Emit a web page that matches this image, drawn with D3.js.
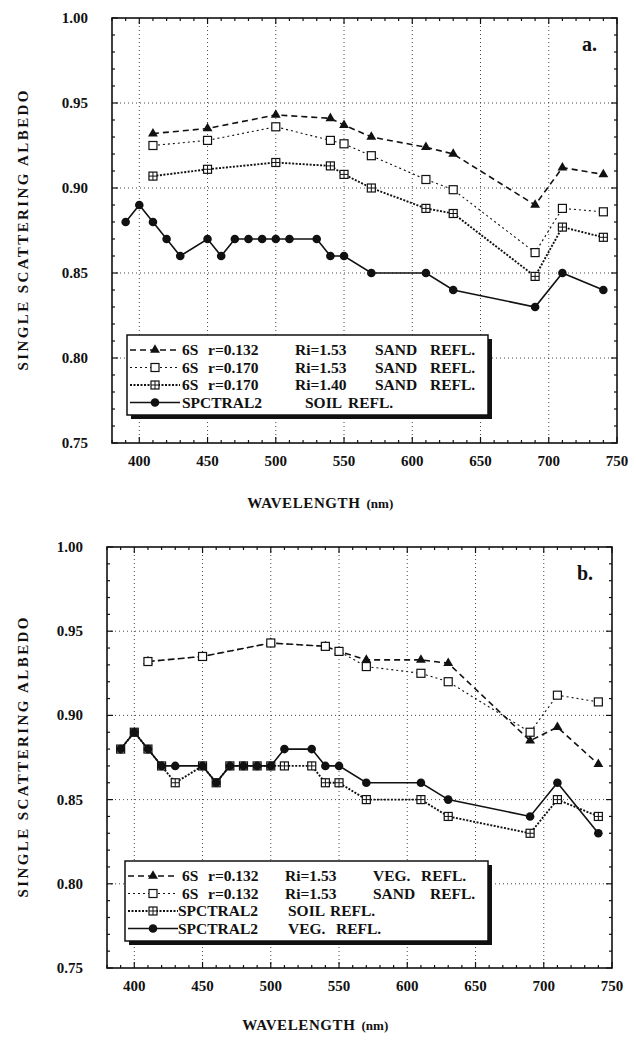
<!DOCTYPE html>
<html>
<head>
<meta charset="utf-8">
<script src="https://cdn.jsdelivr.net/npm/d3@7"></script>
<style>
  body { margin: 0; background: #fff; }
  svg { display: block; }
</style>
</head>
<body>
<div id="chart"></div>
<script>
// wavelengths (nm)
var wl6S = [410, 450, 500, 540, 550, 570, 610, 630, 690, 710, 740];
var wlSpc = [390, 400, 410, 420, 430, 450, 460, 470, 480, 490, 500, 510, 530, 540, 550, 570, 610, 630, 690, 710, 740];

// panel a
var a6S132 = [0.932, 0.935, 0.943, 0.941, 0.937, 0.930, 0.924, 0.920, 0.890, 0.912, 0.908];
var a6S170 = [0.925, 0.928, 0.936, 0.928, 0.926, 0.919, 0.905, 0.899, 0.862, 0.888, 0.886];
var a6S170b = [0.907, 0.911, 0.915, 0.913, 0.908, 0.900, 0.888, 0.885, 0.848, 0.877, 0.871];
var aSoil = [0.88, 0.89, 0.88, 0.87, 0.86, 0.87, 0.86, 0.87, 0.87, 0.87, 0.87, 0.87, 0.87, 0.86, 0.86, 0.85, 0.85, 0.84, 0.83, 0.85, 0.84];

// panel b
var b6SVeg = [0.932, 0.935, 0.943, 0.941, 0.938, 0.933, 0.933, 0.931, 0.885, 0.893, 0.871];
var b6SSand = [0.932, 0.935, 0.943, 0.941, 0.938, 0.929, 0.925, 0.920, 0.890, 0.912, 0.908];
var bSoil = [0.88, 0.89, 0.88, 0.87, 0.86, 0.87, 0.86, 0.87, 0.87, 0.87, 0.87, 0.87, 0.87, 0.86, 0.86, 0.85, 0.85, 0.84, 0.83, 0.85, 0.84];
var bVeg = [0.88, 0.89, 0.88, 0.87, 0.87, 0.87, 0.86, 0.87, 0.87, 0.87, 0.87, 0.88, 0.88, 0.87, 0.87, 0.86, 0.86, 0.85, 0.84, 0.86, 0.83];

var xTicks = [400, 450, 500, 550, 600, 650, 700, 750];
var yTicks = [0.75, 0.80, 0.85, 0.90, 0.95, 1.00];

var FONT = "'Liberation Serif', 'Times New Roman', serif";

// line styles per legend key
var styles = {
    dash: {dash: "6,4", width: 1.6, marker: "tri"},
    dot: {dash: "2,3", width: 1.1, marker: "sq"},
    dense: {dash: "2,1.5", width: 1.9, marker: "xsq"},
    solid: {dash: null, width: 1.6, marker: "circ"}
};

var svg = d3.select("#chart").append("svg")
    .attr("width", 636)
    .attr("height", 1040);

function marker(g, type, cx, cy) {
    if (type === "tri") {
        g.append("path")
            .attr("d", d3.symbol().type(d3.symbolTriangle).size(42)())
            .attr("transform", "translate(" + cx + "," + cy + ")")
            .attr("fill", "#111");
    } else if (type === "sq" || type === "xsq") {
        g.append("rect")
            .attr("x", cx - 4).attr("y", cy - 4)
            .attr("width", 8).attr("height", 8)
            .attr("fill", "#fff").attr("stroke", "#111").attr("stroke-width", 1.2);
        if (type === "xsq") {
            g.append("path")
                .attr("d", "M" + (cx - 4) + "," + cy + "H" + (cx + 4) + "M" + cx + "," + (cy - 4) + "V" + (cy + 4))
                .attr("stroke", "#111").attr("stroke-width", 1);
        }
    } else {
        g.append("circle")
            .attr("cx", cx).attr("cy", cy).attr("r", 4.3)
            .attr("fill", "#111");
    }
}

function txt(g, x, y, s, size) {
    return g.append("text")
        .attr("x", x).attr("y", y)
        .style("font-family", FONT)
        .style("font-weight", "bold")
        .style("font-size", size + "px")
        .attr("fill", "#111")
        .text(s);
}

function panel(cfg) {
    var x = d3.scaleLinear().domain([380, 750]).range([cfg.left, cfg.right]);
    var y = d3.scaleLinear().domain([0.75, 1.0]).range([cfg.bottom, cfg.top]);
    var g = svg.append("g");

    // dotted grid
    [400, 450, 500, 550, 600, 650, 700].forEach(function (t) {
        g.append("line")
            .attr("x1", x(t)).attr("x2", x(t))
            .attr("y1", cfg.top).attr("y2", cfg.bottom)
            .attr("stroke", "#333").attr("stroke-width", 0.9)
            .attr("stroke-dasharray", "1,3");
    });
    [0.80, 0.85, 0.90, 0.95].forEach(function (t) {
        g.append("line")
            .attr("x1", cfg.left).attr("x2", cfg.right)
            .attr("y1", y(t)).attr("y2", y(t))
            .attr("stroke", "#333").attr("stroke-width", 0.9)
            .attr("stroke-dasharray", "1,3");
    });

    // inner ticks, all sides
    d3.range(380, 751, 10).forEach(function (t) {
        var len = (t % 50 === 0) ? 6 : 3;
        g.append("line").attr("x1", x(t)).attr("x2", x(t))
            .attr("y1", cfg.bottom).attr("y2", cfg.bottom - len)
            .attr("stroke", "#111").attr("stroke-width", 1.2);
        g.append("line").attr("x1", x(t)).attr("x2", x(t))
            .attr("y1", cfg.top).attr("y2", cfg.top + len)
            .attr("stroke", "#111").attr("stroke-width", 1.2);
    });
    d3.range(75, 101, 1).forEach(function (i) {
        var t = i / 100;
        var len = (i % 5 === 0) ? 6 : 3;
        g.append("line").attr("x1", cfg.left).attr("x2", cfg.left + len)
            .attr("y1", y(t)).attr("y2", y(t))
            .attr("stroke", "#111").attr("stroke-width", 1.2);
        g.append("line").attr("x1", cfg.right).attr("x2", cfg.right - len)
            .attr("y1", y(t)).attr("y2", y(t))
            .attr("stroke", "#111").attr("stroke-width", 1.2);
    });

    g.append("rect")
        .attr("x", cfg.left).attr("y", cfg.top)
        .attr("width", cfg.right - cfg.left).attr("height", cfg.bottom - cfg.top)
        .attr("fill", "none").attr("stroke", "#111").attr("stroke-width", 1.6);

    // tick labels
    xTicks.forEach(function (d) {
        txt(g, x(d), cfg.bottom + 23, d, 15).attr("text-anchor", "middle");
    });
    yTicks.forEach(function (d) {
        txt(g, cfg.left - 24, y(d) + 5, d.toFixed(2), 15).attr("text-anchor", "end");
    });

    // axis titles
    txt(g, (cfg.left + cfg.right) / 2 - 4, cfg.bottom + cfg.titleGap, "WAVELENGTH", 15)
        .attr("text-anchor", "end").attr("letter-spacing", 0.6);
    txt(g, (cfg.left + cfg.right) / 2 + 2, cfg.bottom + cfg.titleGap, "(nm)", 13)
        .attr("text-anchor", "start");
    txt(g, 0, 0, "SINGLE SCATTERING ALBEDO", 15)
        .attr("transform", "translate(28," + ((cfg.top + cfg.bottom) / 2) + ") rotate(-90)")
        .attr("text-anchor", "middle")
        .attr("textLength", 280)
        .attr("lengthAdjust", "spacing");

    txt(g, cfg.right - 35, cfg.top + 33, cfg.tag, 20);

    // series
    var line = d3.line()
        .x(function (d) { return x(d[0]); })
        .y(function (d) { return y(d[1]); });
    cfg.series.forEach(function (s) {
        var st = styles[s.style];
        var pts = s.wl.map(function (w, i) { return [w, s.values[i]]; });
        g.append("path")
            .attr("d", line(pts))
            .attr("fill", "none")
            .attr("stroke", "#111")
            .attr("stroke-width", st.width)
            .attr("stroke-dasharray", st.dash);
        pts.forEach(function (p) { marker(g, st.marker, x(p[0]), y(p[1])); });
    });

    // legend with drop shadow
    var L = cfg.legend;
    g.append("rect")
        .attr("x", L.x + 4).attr("y", L.y + 4)
        .attr("width", L.w).attr("height", L.h)
        .attr("fill", "#111");
    g.append("rect")
        .attr("x", L.x).attr("y", L.y)
        .attr("width", L.w).attr("height", L.h)
        .attr("fill", "#fff").attr("stroke", "#111").attr("stroke-width", 1.5);
    cfg.series.forEach(function (s, i) {
        var st = styles[s.style];
        var ry = L.y + 15 + i * 17.5;
        g.append("line")
            .attr("x1", L.x + 3).attr("x2", L.x + 53)
            .attr("y1", ry).attr("y2", ry)
            .attr("stroke", "#111").attr("stroke-width", st.width)
            .attr("stroke-dasharray", st.dash);
        marker(g, st.marker, L.x + 28, ry);
        s.label.forEach(function (part) {
            txt(g, L.x + part[0], ry + 5, part[1], 15.5);
        });
    });
}

panel({
    left: 112, right: 617, top: 18, bottom: 443, tag: "a.", titleGap: 65,
    legend: {x: 127, y: 335, w: 361, h: 80},
    series: [
        {wl: wl6S, values: a6S132, style: "dash",
            label: [[55, "6S"], [81, "r=0.132"], [168, "Ri=1.53"], [248, "SAND"], [303, "REFL."]]},
        {wl: wl6S, values: a6S170, style: "dot",
            label: [[55, "6S"], [81, "r=0.170"], [168, "Ri=1.53"], [248, "SAND"], [303, "REFL."]]},
        {wl: wl6S, values: a6S170b, style: "dense",
            label: [[55, "6S"], [81, "r=0.170"], [168, "Ri=1.40"], [248, "SAND"], [303, "REFL."]]},
        {wl: wlSpc, values: aSoil, style: "solid",
            label: [[55, "SPCTRAL2"], [178, "SOIL"], [221, "REFL."]]}
    ]
});

panel({
    left: 107, right: 612, top: 547, bottom: 968, tag: "b.", titleGap: 62,
    legend: {x: 125, y: 861, w: 363, h: 80},
    series: [
        {wl: wl6S, values: b6SVeg, style: "dash",
            label: [[57, "6S"], [83, "r=0.132"], [160, "Ri=1.53"], [248, "VEG."], [296, "REFL."]]},
        {wl: wl6S, values: b6SSand, style: "dot",
            label: [[57, "6S"], [83, "r=0.132"], [160, "Ri=1.53"], [248, "SAND"], [305, "REFL."]]},
        {wl: wlSpc, values: bSoil, style: "dense",
            label: [[53, "SPCTRAL2"], [163, "SOIL"], [205, "REFL."]]},
        {wl: wlSpc, values: bVeg, style: "solid",
            label: [[53, "SPCTRAL2"], [163, "VEG."], [211, "REFL."]]}
    ]
});
</script>
</body>
</html>
